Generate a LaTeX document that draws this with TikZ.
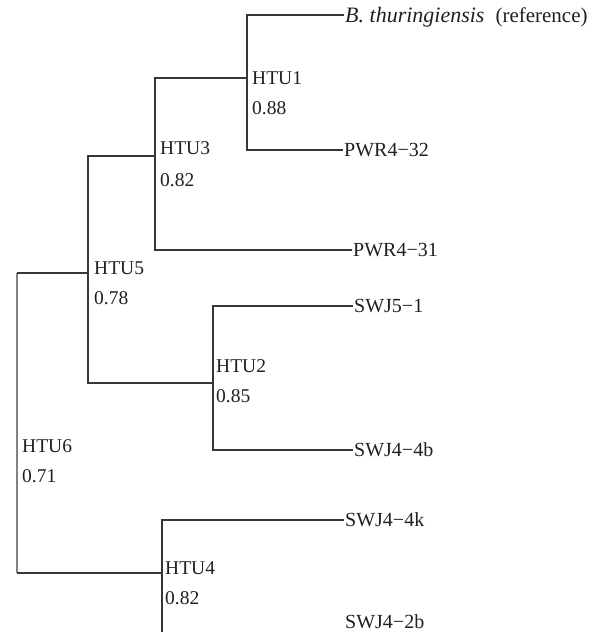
\documentclass[tikz,border=0pt]{standalone}
\usepackage{fontspec}
\setmainfont{Liberation Serif}
\definecolor{treeline}{RGB}{55,55,55}
\definecolor{rootline}{RGB}{130,130,130}
\definecolor{labeltext}{RGB}{35,31,32}
\usetikzlibrary{positioning, calc}

\begin{document}
\begin{tikzpicture}[x=1pt, y=-1pt,
    branch/.style={draw=treeline, line width=1.6pt, line join=miter},
    leaf/.style={anchor=west, inner sep=1pt, text=labeltext, font=\fontsize{20}{24}\selectfont, text height=13.2pt, text depth=0pt},
    htu/.style={anchor=west, inner sep=0pt, text=labeltext, font=\fontsize{19.5}{23}\selectfont, text height=12.9pt, text depth=0pt}]
  \useasboundingbox (0,0) rectangle (607,632);
  \clip (0,0) rectangle (607,632);

  % Junctions
  \coordinate (htu1) at (247,78);
  \coordinate (htu3) at (155,156);
  \coordinate (htu5) at (88,273);
  \coordinate (htu2) at (213,383);
  \coordinate (htu4) at (162,573);
  \coordinate (htu6) at (17,423);
  \coordinate (bottom) at (162,650);

  % Leaves
  \node[leaf, font=\fontsize{22}{26}\selectfont, text height=14.5pt] (bt) at (344,15)
    {\textit{B. thuringiensis}\hspace{11pt}{\fontsize{21}{25}\selectfont(reference)}};
  \node[leaf] (pwr32) at (343,150) {PWR4\textminus32};
  \node[leaf] (pwr31) at (352,250) {PWR4\textminus31};
  \node[leaf] (swj51) at (353,306) {SWJ5\textminus1};
  \node[leaf] (swj44b) at (353,450) {SWJ4\textminus4b};
  \node[leaf] (swj44k) at (344,520) {SWJ4\textminus4k};
  \node[leaf] (swj42b) at (344,622) {SWJ4\textminus2b};

  % Branches
  \draw[branch] (htu1) |- (bt.west);
  \draw[branch] (htu1) |- (pwr32.west);
  \draw[branch] (htu3) |- (htu1);
  \draw[branch] (htu3) |- (pwr31.west);
  \draw[branch] (htu2) |- (swj51.west);
  \draw[branch] (htu2) |- (swj44b.west);
  \draw[branch] (htu5) |- (htu3);
  \draw[branch] (htu5) |- (htu2);
  \draw[branch] (htu4) |- (swj44k.west);
  \draw[branch] (htu4) -- (bottom);
  \draw[branch, draw=rootline] (htu6 |- htu5) -- (htu6 |- htu4);
  \draw[branch] (htu6 |- htu5) -- (htu5);
  \draw[branch] (htu6 |- htu4) -- (htu4);

  % Node labels and support values
  \node[htu] (n1) at (252,78) {HTU1};
  \node[htu] (v1) at (252,108) {0.88};
  \node[htu] (n3) at (160,148) {HTU3};
  \node[htu] (v3) at (160,180) {0.82};
  \node[htu] (n5) at (94,268) {HTU5};
  \node[htu] (v5) at (94,298) {0.78};
  \node[htu] (n2) at (216,366) {HTU2};
  \node[htu] (v2) at (216,396) {0.85};
  \node[htu] (n6) at (22,446) {HTU6};
  \node[htu] (v6) at (22,476) {0.71};
  \node[htu] (n4) at (165,568) {HTU4};
  \node[htu] (v4) at (165,598) {0.82};
\end{tikzpicture}
\end{document}
